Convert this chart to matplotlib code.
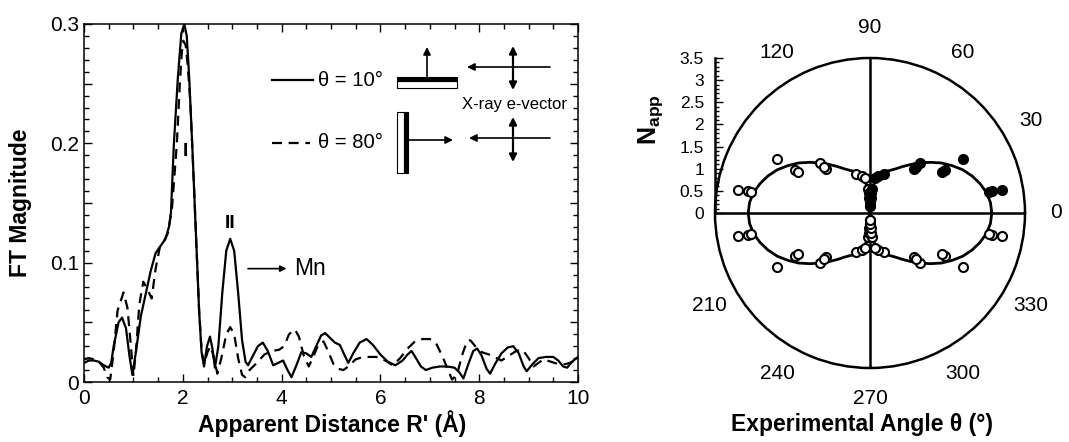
import numpy as np
import matplotlib
matplotlib.use("Agg")
import matplotlib.pyplot as plt
from matplotlib.patches import Rectangle
from matplotlib.ticker import MultipleLocator, FuncFormatter

plt.rcParams['font.family'] = ['Liberation Sans', 'DejaVu Sans']
plt.rcParams['mathtext.fontset'] = 'custom'
plt.rcParams['mathtext.rm'] = 'Liberation Sans'
plt.rcParams['mathtext.bf'] = 'Liberation Sans:bold'

# ---------------- data: FT magnitude (left panel) ----------------
R_10 = [0.0, 0.1, 0.2, 0.3, 0.4, 0.5, 0.55, 0.6, 0.7, 0.77, 0.85, 0.92, 0.98, 1.05, 1.15,
        1.25, 1.35, 1.45, 1.55, 1.65, 1.72, 1.76, 1.82, 1.9, 1.97, 2.03, 2.08, 2.13, 2.2,
        2.27, 2.33, 2.38, 2.43, 2.49, 2.55, 2.6, 2.65, 2.72, 2.8, 2.88, 2.96, 3.04, 3.12,
        3.2, 3.27, 3.32, 3.42, 3.52, 3.62, 3.72, 3.83, 3.93, 4.03, 4.12, 4.2, 4.3, 4.4,
        4.5, 4.6, 4.7, 4.8, 4.88, 4.98, 5.08, 5.18, 5.28, 5.35, 5.45, 5.58, 5.72, 5.85,
        6.0, 6.15, 6.3, 6.45, 6.55, 6.63, 6.72, 6.82, 6.92, 7.05, 7.2, 7.35, 7.5, 7.6,
        7.68, 7.78, 7.88, 7.96, 8.05, 8.15, 8.22, 8.32, 8.45, 8.58, 8.69, 8.8, 8.9, 8.96,
        9.08, 9.2, 9.35, 9.5, 9.6, 9.7, 9.78, 9.88, 10.0]
FT_10 = [0.016, 0.018, 0.018, 0.017, 0.014, 0.012, 0.016, 0.030, 0.050, 0.054, 0.045, 0.022,
         0.006, 0.025, 0.055, 0.074, 0.093, 0.108, 0.114, 0.120, 0.130, 0.142, 0.200, 0.255,
         0.292, 0.300, 0.290, 0.255, 0.190, 0.120, 0.060, 0.025, 0.013, 0.030, 0.038, 0.028,
         0.012, 0.030, 0.075, 0.110, 0.120, 0.110, 0.075, 0.035, 0.017, 0.014, 0.022, 0.030,
         0.033, 0.026, 0.014, 0.016, 0.018, 0.010, 0.004, 0.014, 0.025, 0.024, 0.021, 0.030,
         0.039, 0.041, 0.037, 0.033, 0.031, 0.022, 0.016, 0.024, 0.033, 0.036, 0.031, 0.023,
         0.017, 0.014, 0.018, 0.023, 0.026, 0.020, 0.013, 0.010, 0.012, 0.013, 0.013, 0.012,
         0.008, 0.003, 0.015, 0.026, 0.028, 0.022, 0.011, 0.007, 0.015, 0.024, 0.029, 0.030,
         0.024, 0.013, 0.009, 0.015, 0.020, 0.021, 0.021, 0.018, 0.013, 0.012, 0.017, 0.021]

R_80 = [0.0, 0.1, 0.2, 0.3, 0.4, 0.47, 0.53, 0.6, 0.68, 0.8, 0.88, 0.95, 1.0, 1.05, 1.12,
        1.2, 1.28, 1.37, 1.45, 1.54, 1.62, 1.7, 1.78, 1.88, 1.94, 1.98, 2.01, 2.06, 2.1,
        2.15, 2.2, 2.27, 2.33, 2.38, 2.43, 2.5, 2.56, 2.62, 2.7, 2.78, 2.88, 2.96, 3.04,
        3.12, 3.2, 3.26, 3.35, 3.5, 3.65, 3.8, 3.95, 4.05, 4.15, 4.27, 4.35, 4.45, 4.55,
        4.65, 4.75, 4.85, 4.95, 5.05, 5.15, 5.25, 5.35, 5.5, 5.65, 5.8, 5.95, 6.1, 6.25,
        6.4, 6.55, 6.7, 6.85, 7.0, 7.12, 7.25, 7.35, 7.45, 7.55, 7.65, 7.75, 7.82, 7.92,
        8.05, 8.2, 8.35, 8.45, 8.6, 8.75, 8.88, 9.0, 9.1, 9.2, 9.3, 9.45, 9.6, 9.75, 9.9,
        10.0]
FT_80 = [0.019, 0.020, 0.019, 0.017, 0.012, 0.004, 0.002, 0.025, 0.060, 0.075, 0.062, 0.030,
         0.005, 0.025, 0.065, 0.084, 0.078, 0.070, 0.095, 0.114, 0.118, 0.125, 0.145, 0.200,
         0.250, 0.276, 0.286, 0.282, 0.265, 0.236, 0.190, 0.120, 0.060, 0.027, 0.015, 0.025,
         0.030, 0.022, 0.007, 0.020, 0.040, 0.046, 0.040, 0.020, 0.006, 0.004, 0.010, 0.016,
         0.023, 0.026, 0.027, 0.030, 0.040, 0.044, 0.038, 0.022, 0.013, 0.022, 0.032, 0.034,
         0.025, 0.015, 0.011, 0.010, 0.013, 0.019, 0.021, 0.021, 0.021, 0.018, 0.014, 0.020,
         0.028, 0.034, 0.036, 0.036, 0.033, 0.022, 0.012, 0.002, 0.006, 0.022, 0.034, 0.035,
         0.030, 0.025, 0.023, 0.020, 0.018, 0.022, 0.026, 0.027, 0.020, 0.013, 0.016, 0.019,
         0.017, 0.015, 0.015, 0.017, 0.018]

x_ticks = [0, 2, 4, 6, 8, 10]

# ---------------- data: polar panel (first quadrant, mirrored) ----------------
fit_theta_deg = [0, 5, 10, 15, 20, 25, 30, 35, 40, 45, 50, 55, 60, 65, 70, 75, 80, 85, 88, 90]
fit_napp = [2.75, 2.73, 2.67, 2.57, 2.45, 2.31, 2.14, 1.97, 1.78, 1.60, 1.43, 1.28, 1.15,
            1.06, 1.00, 0.93, 0.80, 0.55, 0.30, 0.0]

pt_theta_deg = [10, 10, 10, 30, 30, 30, 45, 45, 45, 71, 77, 82, 85, 86, 87, 88, 89]
pt_napp = [3.02, 2.80, 2.74, 2.43, 1.95, 1.87, 1.60, 1.40, 1.47, 0.94, 0.85, 0.80,
           0.55, 0.45, 0.35, 0.25, 0.15]

angle_labels = [0, 30, 60, 90, 120, 210, 240, 270, 300, 330]
r_ticks = [0, 0.5, 1, 1.5, 2, 2.5, 3, 3.5]

# ---------------- figure ----------------
W, H = 1069, 442
fig = plt.figure(figsize=(W / 100, H / 100), dpi=100)

def fx(px):
    return px / W

def fy(py):
    return 1 - py / H

# left axes
ax = fig.add_axes([fx(84), fy(382), fx(578) - fx(84), fy(24) - fy(382)])
ax.plot(R_10, FT_10, color='k', lw=1.6, solid_joinstyle='round')
ax.plot(R_80, FT_80, color='k', lw=1.6, ls=(0, (4.5, 3)))
ax.set_xlim(0, 10)
ax.set_ylim(0, 0.3)
ax.set_xticks(x_ticks)
ax.xaxis.set_minor_locator(MultipleLocator(0.5))
ax.yaxis.set_major_locator(MultipleLocator(0.05))
ax.yaxis.set_minor_locator(MultipleLocator(0.01))
ax.yaxis.set_major_formatter(FuncFormatter(
    lambda v, p: ('0' if abs(v) < 1e-9 else f'{v:.1f}') if round(v * 100) % 10 == 0 else ''))
ax.tick_params(which='both', direction='in', top=True, right=True, width=1.0,
               labelsize=15)
ax.tick_params(which='major', length=6)
ax.tick_params(which='minor', length=3.5)
ax.tick_params(axis='x', pad=5)
for s in ax.spines.values():
    s.set_linewidth(1.1)

ax.text(2.05, 0.193, 'I', fontsize=14, fontweight='bold', ha='center', va='center')
ax.text(2.96, 0.133, 'II', fontsize=14, fontweight='bold', ha='center', va='center')
ax.annotate('', xy=(4.1, 0.095), xytext=(3.32, 0.095),
            arrowprops=dict(arrowstyle='-|>', lw=1.2, color='k', mutation_scale=9,
                            shrinkA=0, shrinkB=0))
ax.text(4.25, 0.095, 'Mn', fontsize=16.5, ha='left', va='center')

fig.text(fx(21), fy(203), 'FT Magnitude', rotation=90, fontsize=16.5, fontweight='bold',
         ha='center', va='center')
fig.text(fx(332), fy(424), "Apparent Distance R' (Å)", fontsize=16.5, fontweight='bold',
         ha='center', va='center')

# polar axes
pax = fig.add_axes([fx(715), fy(368), fx(1025) - fx(715), fy(58) - fy(368)],
                   projection='polar')
pax.set_ylim(0, 3.5)
pax.grid(False)
pax.set_yticks([])
pax.set_xticks(np.deg2rad(angle_labels))
pax.set_xticklabels([str(a) for a in angle_labels])
pax.tick_params(axis='x', labelsize=15, pad=15, length=0)
pax.spines['polar'].set_linewidth(1.8)
for a in [0, 90, 180, 270]:
    pax.plot([np.deg2rad(a)] * 2, [0, 3.5], color='k', lw=1.8, zorder=2)

fth = np.array(fit_theta_deg, dtype=float)
fr = np.array(fit_napp, dtype=float)
full_th = np.concatenate([fth, 180 - fth[::-1], 180 + fth, 360 - fth[::-1]])
full_r = np.concatenate([fr, fr[::-1], fr, fr[::-1]])
pax.plot(np.deg2rad(full_th), full_r, color='k', lw=2.0, zorder=3)

pth = np.array(pt_theta_deg, dtype=float)
pr = np.array(pt_napp, dtype=float)
for mth in [180 - pth, 180 + pth, 360 - pth]:
    pax.plot(np.deg2rad(mth), pr, 'o', ms=6.5, mfc='white', mec='k', mew=1.5, zorder=4)
pax.plot(np.deg2rad(pth), pr, 'o', ms=6.5, mfc='k', mec='k', mew=1.5, zorder=5)

# radial ruler
rax = fig.add_axes([fx(715), fy(213), 0.0005, fy(58) - fy(213)])
rax.set_ylim(0, 3.5)
rax.set_xticks([])
for k in ['top', 'right', 'bottom']:
    rax.spines[k].set_visible(False)
rax.spines['left'].set_linewidth(1.8)
rax.set_yticks(r_ticks)
rax.set_yticklabels(['0', '0.5', '1', '1.5', '2', '2.5', '3', '3.5'])
rax.yaxis.set_minor_locator(MultipleLocator(0.1))
rax.tick_params(which='both', direction='in', width=1.0, labelsize=12.5, pad=8)
rax.tick_params(which='major', length=6)
rax.tick_params(which='minor', length=3)
rax.patch.set_visible(False)

fig.text(fx(651), fy(120), r'$\mathbf{N_{app}}$', rotation=90, fontsize=18,
         ha='center', va='center')
fig.text(fx(862), fy(424), 'Experimental Angle θ (°)', fontsize=16.5, fontweight='bold',
         ha='center', va='center')

# overlay for legend / geometry sketch (pixel coordinates)
ov = fig.add_axes([0, 0, 1, 1])
ov.set_xlim(0, W)
ov.set_ylim(H, 0)
ov.axis('off')
ov.patch.set_visible(False)

ov.plot([272, 313], [80, 80], color='k', lw=1.6)
ov.plot([272, 310], [143, 143], color='k', lw=1.6, ls=(0, (4.5, 3)))
ov.text(318, 80, 'θ = 10°', fontsize=14.6, ha='left', va='center')
ov.text(318, 143, 'θ = 80°', fontsize=14.6, ha='left', va='center')

arr = dict(arrowstyle='-|>', lw=1.2, color='k', mutation_scale=11, shrinkA=0, shrinkB=0)
darr = dict(arrowstyle='<|-|>', lw=1.6, color='k', mutation_scale=11, shrinkA=0, shrinkB=0)

# sample 1 (horizontal film)
ov.add_patch(Rectangle((397, 81), 60, 7, fc='white', ec='k', lw=0.8))
ov.add_patch(Rectangle((397, 77), 60, 4, fc='k', ec='k', lw=0.8))
ov.annotate('', xy=(427, 47), xytext=(427, 77), arrowprops=arr)
ov.annotate('', xy=(467, 67), xytext=(550, 67), arrowprops=arr)
ov.annotate('', xy=(513, 46), xytext=(513, 90), arrowprops=darr)
ov.text(462, 105, 'X-ray e-vector', fontsize=12, ha='left', va='center')

# sample 2 (vertical film)
ov.add_patch(Rectangle((397, 112), 7, 61, fc='white', ec='k', lw=0.8))
ov.add_patch(Rectangle((404, 112), 4, 61, fc='k', ec='k', lw=0.8))
ov.annotate('', xy=(453, 140), xytext=(408, 140), arrowprops=arr)
ov.annotate('', xy=(469, 138), xytext=(550, 138), arrowprops=arr)
ov.annotate('', xy=(513, 117), xytext=(513, 162), arrowprops=darr)

fig.savefig('out.png', dpi=100)
